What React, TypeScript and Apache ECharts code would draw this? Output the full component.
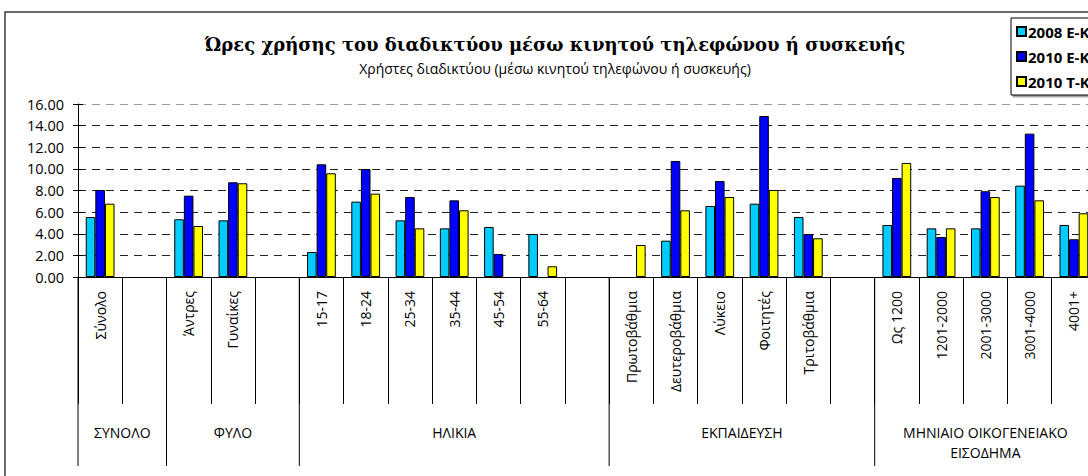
import React, { useEffect, useRef } from 'react';
import * as echarts from 'echarts';

const categories = ['Σύνολο', '', 'Άντρες', 'Γυναίκες', '', '15-17', '18-24', '25-34', '35-44', '45-54', '55-64', '', 'Πρωτοβάθμια', 'Δευτεροβάθμια', 'Λύκειο', 'Φοιτητές', 'Τριτοβάθμια', '', 'Ως 1200', '1201-2000', '2001-3000', '3001-4000', '4001+'];

const series2008EK = [5.55, null, 5.34, 5.24, null, 2.31, 6.97, 5.24, 4.5, 4.63, 3.98, null, null, 3.36, 6.57, 6.78, 5.55, null, 4.81, 4.5, 4.5, 8.45, 4.81];
const series2010EK = [8.05, null, 7.52, 8.76, null, 10.42, 9.99, 7.4, 7.09, 2.13, null, null, null, 10.73, 8.88, 14.89, 3.98, null, 9.16, 3.7, 7.93, 13.26, 3.49];
const series2010TK = [6.78, null, 4.72, 8.67, null, 9.59, 7.71, 4.5, 6.17, null, 0.99, null, 2.96, 6.17, 7.4, 8.05, 3.58, null, 10.55, 4.5, 7.4, 7.09, 5.89];

const seriesNames = ['2008 E-K', '2010 E-K', '2010 T-K'];
const seriesColors = ['#00CCFF', '#0000FF', '#FFFF00'];

const groupNames = ['ΣΥΝΟΛΟ', 'ΦΥΛΟ', 'ΗΛΙΚΙΑ', 'ΕΚΠΑΙΔΕΥΣΗ', 'ΜΗΝΙΑΙΟ ΟΙΚΟΓΕΝΕΙΑΚΟ\nΕΙΣΟΔΗΜΑ'];
const groupSizes = [2, 3, 7, 6, 5];

const titleText = 'Ώρες χρήσης του διαδικτύου μέσω κινητού τηλεφώνου ή συσκευής';
const subtitleText = 'Χρήστες διαδικτύου (μέσω κινητού τηλεφώνου ή συσκευής)';

const yMin = 0;
const yMax = 16;
const yStep = 2;

const FONT = 'Open Sans';

export default function App() {
  const ref = useRef<HTMLDivElement>(null);

  useEffect(() => {
    const chart = echarts.init(ref.current!, null, { renderer: 'svg' });
    const seriesData = [series2008EK, series2010EK, series2010TK];
    const gridColors = ['#000', '#222', '#222', '#222', '#222', '#222', '#222', '#222', '#9a9a9a'];

    chart.setOption({
      animation: false,
      backgroundColor: '#fff',
      textStyle: { fontFamily: FONT, color: '#000' },
      legend: {
        orient: 'vertical',
        left: 1011,
        top: 18,
        padding: [6, 8, 6, 5],
        itemWidth: 9,
        itemHeight: 9,
        itemGap: 10,
        borderColor: '#000',
        borderWidth: 1,
        backgroundColor: '#fff',
        shadowColor: 'rgba(0,0,0,0.35)',
        shadowOffsetX: 2,
        shadowOffsetY: 2,
        shadowBlur: 1,
        icon: 'rect',
        textStyle: { fontFamily: FONT, fontWeight: 'bold', fontSize: 15, color: '#000', padding: [0, 0, 0, -3] },
        data: seriesNames,
      },
      grid: { left: 78, top: 104, width: 1018, height: 173, containLabel: false },
      xAxis: {
        type: 'category',
        data: categories,
        boundaryGap: true,
        axisLine: { lineStyle: { color: '#000', width: 1 } },
        axisTick: { show: true, interval: 0, length: 127, lineStyle: { color: '#000' } },
        axisLabel: { interval: 0, rotate: 90, margin: 14, fontSize: 14, fontFamily: FONT, color: '#000' },
        splitLine: { show: false },
      },
      yAxis: [
        {
          type: 'value',
          min: yMin,
          max: yMax,
          interval: yStep,
          axisLine: { show: true, lineStyle: { color: '#000' } },
          axisTick: { show: true, length: 5, lineStyle: { color: '#000' } },
          axisLabel: { margin: 14, fontSize: 14.5, fontFamily: FONT, color: '#000', formatter: (v: number) => v.toFixed(2) },
          splitLine: { show: true, lineStyle: { color: gridColors, type: [8, 6], width: 1 } },
        },
        {
          type: 'value',
          min: yMin,
          max: yMax,
          interval: yStep,
          position: 'left',
          axisLine: { show: false },
          axisTick: { show: true, inside: true, length: 5, lineStyle: { color: '#000' } },
          axisLabel: { show: false },
          splitLine: { show: false },
        },
      ],
      series: seriesNames.map((name, i) => ({
        name,
        type: 'bar',
        yAxisIndex: 0,
        data: seriesData[i],
        barGap: '0%',
        barCategoryGap: '35%',
        itemStyle: { color: seriesColors[i], borderColor: '#000', borderWidth: 1 },
      })),
    });

    const px = (i: number) => chart.convertToPixel({ xAxisIndex: 0 }, i) as number;
    const band = px(1) - px(0);
    const yBase = chart.convertToPixel({ yAxisIndex: 0 }, 0) as number;
    const boundary = (i: number) => px(i) - band / 2;

    const graphics: any[] = [
      {
        type: 'rect',
        shape: { x: 5, y: 12, width: 1300, height: 700 },
        style: { fill: 'none', stroke: '#3a3a3a', lineWidth: 1.5 },
        silent: true,
      },
      {
        type: 'text',
        x: 555,
        y: 44,
        style: {
          text: titleText,
          align: 'center',
          verticalAlign: 'middle',
          fontFamily: 'DejaVu Serif',
          fontWeight: 'bold',
          fontSize: 18,
          fill: '#000',
        },
      },
      {
        type: 'text',
        x: 555,
        y: 68,
        style: {
          text: subtitleText,
          align: 'center',
          verticalAlign: 'middle',
          fontFamily: FONT,
          fontSize: 14,
          fill: '#000',
        },
      },
    ];

    let start = 0;
    groupSizes.forEach((size, g) => {
      const left = boundary(start);
      const right = boundary(start + size);
      graphics.push({
        type: 'line',
        shape: { x1: left, y1: yBase, x2: left, y2: 466 },
        style: { stroke: '#000', lineWidth: 1 },
        silent: true,
      });
      graphics.push({
        type: 'text',
        x: (left + right) / 2,
        y: 422,
        style: {
          text: groupNames[g],
          align: 'center',
          verticalAlign: 'top',
          lineHeight: 20,
          fontFamily: FONT,
          fontSize: 14,
          fill: '#000',
        },
      });
      start += size;
    });

    chart.setOption({ graphic: graphics });

    return () => chart.dispose();
  }, []);

  return (
    <div style={{ position: 'fixed', left: 0, top: 0, width: 1088, height: 476, overflow: 'hidden', background: '#fff' }}>
      <div ref={ref} style={{ width: 1100, height: 476 }} />
    </div>
  );
}
